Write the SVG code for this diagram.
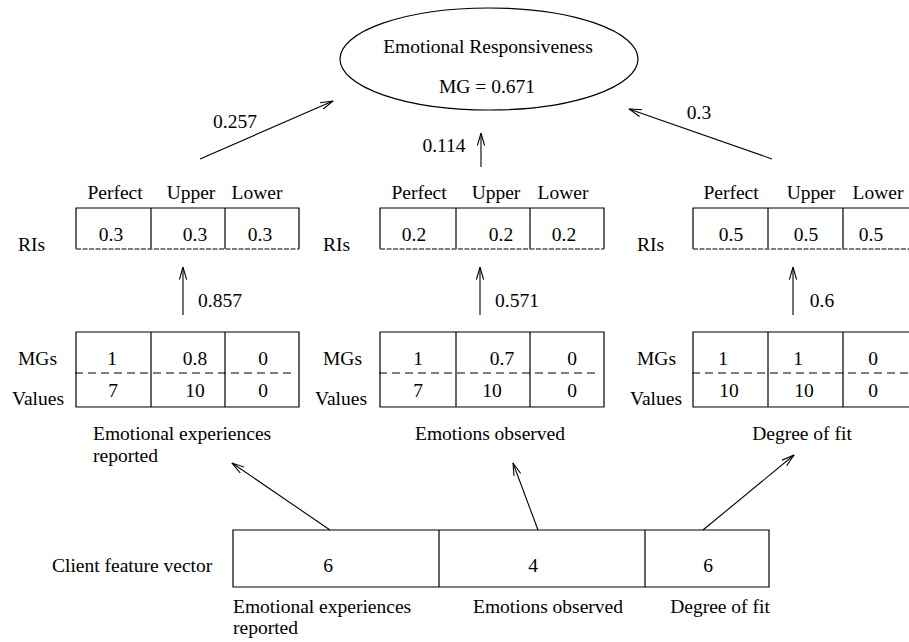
<svg xmlns="http://www.w3.org/2000/svg" width="909" height="642" viewBox="0 0 909 642">
  <defs>
    <style>
      text { font-family: "Liberation Serif", "Times New Roman", serif; font-size: 19.5px; fill: #000; }
      .c { text-anchor: middle; }
      .box { fill: none; stroke: #000; stroke-width: 1.2; }
      .dash { stroke: #000; stroke-width: 1.2; stroke-dasharray: 8 5; fill: none; }
      .base { stroke: #555; stroke-width: 1.6; stroke-dasharray: 5 1.5; fill: none; }
      .arr { stroke: #000; stroke-width: 1.1; fill: none; marker-end: url(#head); }
    </style>
    <marker id="head" viewBox="0 0 13 8" refX="12.5" refY="4" markerWidth="13" markerHeight="8" markerUnits="userSpaceOnUse" orient="auto">
      <path d="M0,0.4 L12.5,4 L0,7.6" fill="none" stroke="#000" stroke-width="1.1"/>
    </marker>
  </defs>

  <!-- goal node -->
  <g id="goal">
    <ellipse cx="489" cy="59" rx="149" ry="51" class="box"/>
    <text x="488" y="53" class="c">Emotional Responsiveness</text>
    <text x="487" y="93" class="c">MG = 0.671</text>
  </g>

  <!-- relative importance tables -->
  <g id="ri-exp">
    <text x="115" y="199" class="c">Perfect</text>
    <text x="191" y="199" class="c">Upper</text>
    <text x="257" y="199" class="c">Lower</text>
    <path d="M76,249 V208 H299 V249 M151,208 V249 M225,208 V249" class="box"/>
    <line x1="76" y1="249" x2="299" y2="249" class="base"/>
    <text x="111" y="241" class="c">0.3</text>
    <text x="195" y="241" class="c">0.3</text>
    <text x="260" y="241" class="c">0.3</text>
    <text x="18" y="251">RIs</text>
  </g>
  <g id="ri-obs">
    <text x="419" y="199" class="c">Perfect</text>
    <text x="496" y="199" class="c">Upper</text>
    <text x="563" y="199" class="c">Lower</text>
    <path d="M380,249 V208 H604 V249 M456,208 V249 M530,208 V249" class="box"/>
    <line x1="380" y1="249" x2="604" y2="249" class="base"/>
    <text x="414" y="241" class="c">0.2</text>
    <text x="501" y="241" class="c">0.2</text>
    <text x="564" y="241" class="c">0.2</text>
    <text x="323" y="251">RIs</text>
  </g>
  <g id="ri-fit">
    <text x="731" y="199" class="c">Perfect</text>
    <text x="811" y="199" class="c">Upper</text>
    <text x="878" y="199" class="c">Lower</text>
    <path d="M693,249 V208 H918 V249 M768,208 V249 M843,208 V249" class="box"/>
    <line x1="693" y1="249" x2="918" y2="249" class="base"/>
    <text x="731" y="241" class="c">0.5</text>
    <text x="806" y="241" class="c">0.5</text>
    <text x="871" y="241" class="c">0.5</text>
    <text x="637" y="251">RIs</text>
  </g>

  <!-- membership grade tables -->
  <g id="mg-exp">
    <path d="M76,332 H299 V407 H76 Z M151,332 V407 M225,332 V407" class="box"/>
    <line x1="75" y1="373" x2="292" y2="373" class="dash"/>
    <text x="112" y="365" class="c">1</text>
    <text x="195" y="365" class="c">0.8</text>
    <text x="263" y="365" class="c">0</text>
    <text x="113" y="397" class="c">7</text>
    <text x="195" y="397" class="c">10</text>
    <text x="263" y="397" class="c">0</text>
    <text x="18" y="365">MGs</text>
    <text x="12" y="405">Values</text>
    <text x="93" y="440">Emotional experiences</text>
    <text x="93" y="462">reported</text>
  </g>
  <g id="mg-obs">
    <path d="M380,332 H604 V407 H380 Z M456,332 V407 M530,332 V407" class="box"/>
    <line x1="379" y1="373" x2="597" y2="373" class="dash"/>
    <text x="418" y="365" class="c">1</text>
    <text x="502" y="365" class="c">0.7</text>
    <text x="572" y="365" class="c">0</text>
    <text x="418" y="397" class="c">7</text>
    <text x="492" y="397" class="c">10</text>
    <text x="572" y="397" class="c">0</text>
    <text x="323" y="365">MGs</text>
    <text x="315" y="405">Values</text>
    <text x="490" y="440" class="c">Emotions observed</text>
  </g>
  <g id="mg-fit">
    <path d="M693,332 H918 V407 H693 Z M768,332 V407 M843,332 V407" class="box"/>
    <line x1="692" y1="373" x2="909" y2="373" class="dash"/>
    <text x="723" y="365" class="c">1</text>
    <text x="798" y="365" class="c">1</text>
    <text x="873" y="365" class="c">0</text>
    <text x="729" y="397" class="c">10</text>
    <text x="804" y="397" class="c">10</text>
    <text x="873" y="397" class="c">0</text>
    <text x="637" y="365">MGs</text>
    <text x="630" y="405">Values</text>
    <text x="802" y="440" class="c">Degree of fit</text>
  </g>

  <!-- client feature vector -->
  <g id="client">
    <text x="52" y="572">Client feature vector</text>
    <path d="M233,530 H769 V587 H233 Z M439,530 V587 M645,530 V587" class="box"/>
    <text x="328" y="572" class="c">6</text>
    <text x="533" y="572" class="c">4</text>
    <text x="708" y="572" class="c">6</text>
    <text x="233" y="613">Emotional experiences</text>
    <text x="233" y="634">reported</text>
    <text x="548" y="613" class="c">Emotions observed</text>
    <text x="720" y="613" class="c">Degree of fit</text>
  </g>

  <!-- connectors -->
  <g id="connectors">
    <line x1="200" y1="159" x2="333" y2="101" class="arr"/>
    <line x1="481" y1="167" x2="481" y2="133" class="arr"/>
    <line x1="772" y1="159" x2="629" y2="109" class="arr"/>
    <line x1="183" y1="315" x2="183" y2="267" class="arr"/>
    <line x1="480" y1="315" x2="480" y2="267" class="arr"/>
    <line x1="793" y1="315" x2="793" y2="267" class="arr"/>
    <line x1="330" y1="530" x2="232" y2="463" class="arr"/>
    <line x1="538" y1="530" x2="513" y2="463" class="arr"/>
    <line x1="703" y1="530" x2="794" y2="455" class="arr"/>
    <text x="235" y="128" class="c">0.257</text>
    <text x="444" y="152" class="c">0.114</text>
    <text x="699" y="119" class="c">0.3</text>
    <text x="220" y="307" class="c">0.857</text>
    <text x="517" y="307" class="c">0.571</text>
    <text x="822" y="307" class="c">0.6</text>
  </g>
</svg>
